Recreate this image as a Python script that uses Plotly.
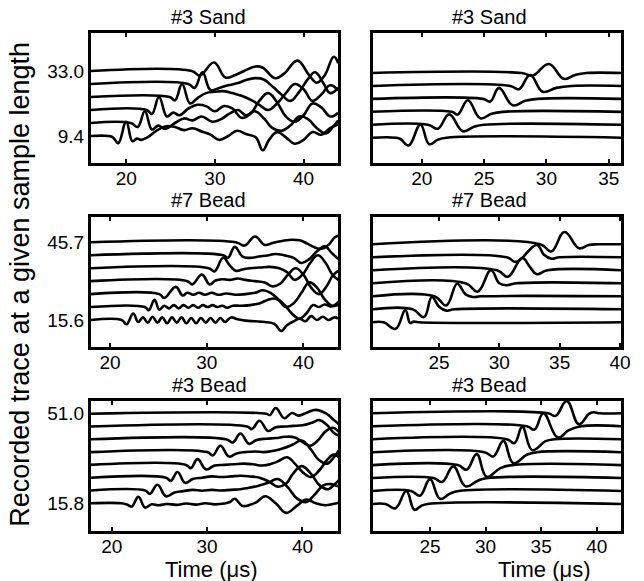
import plotly.graph_objects as go

W, H = 644, 581

# ---------------- data (time in microseconds, amplitude in trace-spacing units) -------------
SAND3_LEVELS = [9.4, 14.12, 18.84, 23.56, 28.28, 33.0]
BEAD7_LEVELS = [15.6, 20.62, 25.63, 30.65, 35.67, 40.68, 45.7]
BEAD3_LEVELS = [15.8, 20.83, 25.86, 30.89, 35.91, 40.94, 45.97, 51.0]

SAND3_TICKS_FULL = [20, 30, 40]
SAND3_TICKS_WIN = [20, 25, 30, 35]
BEAD7_TICKS_FULL = [20, 30, 40]
BEAD7_TICKS_WIN = [25, 30, 35, 40]
BEAD3_TICKS_FULL = [20, 30, 40]
BEAD3_TICKS_WIN = [25, 30, 35, 40]

SAND3_FULL = [
    [(16, 0), (18.0, 0), (18.5, -0.1), (19.1, -0.55), (20.0, 1.1), (20.7, -0.4), (21.2, -0.2), (21.7, -0.3),
     (22.4, -0.1), (23.4, 0.4), (24.5, 0.75), (25.5, 0.7), (26.5, 0.45), (27.5, 0.6), (28.5, 0.35), (29.5, 0.1),
     (30.5, -0.3), (31.5, 0.0), (32.5, 0.4), (33.5, 0.15), (34.6, -0.1), (35.4, -1.1), (36.1, -0.3), (37.0, 0.3),
     (38.0, -0.1), (39.0, -0.6), (40.0, -0.3), (41.0, 0.3), (42.0, 0.1), (43.0, 0.6), (43.9, 0.9)],
    [(16, 0), (20.5, 0), (21.3, -0.3), (22.1, 0.9), (22.9, -0.5), (23.6, -0.2), (24.4, -0.45), (25.5, 0.0),
     (26.5, 0.35), (27.5, 0.2), (28.5, 0.5), (29.7, 0.1), (30.7, 0.3), (31.6, 0.7), (32.6, 1.0), (33.5, 0.6),
     (34.5, 0.9), (35.6, 0.3), (36.5, -0.4), (37.5, -0.6), (38.5, -0.2), (39.5, 0.5), (40.5, 0.3), (41.5, -0.4),
     (42.5, -0.8), (43.3, -0.3), (43.9, 0.2)],
    [(16, 0), (22.3, 0), (22.9, -0.3), (23.7, 1.0), (24.6, -0.5), (25.3, -0.2), (26.0, -0.4), (27.0, 0.1),
     (28.0, 0.4), (29.0, 0.3), (30.0, -0.1), (31.0, 0.3), (32.0, 0.1), (33.0, -0.6), (34.0, -0.3), (35.0, 0.7),
     (36.0, 1.3), (37.0, 0.6), (38.0, -0.5), (39.0, -0.9), (40.0, -0.4), (41.0, 0.5), (42.0, 0.2), (43.0, -0.5),
     (43.9, -0.2)],
    [(16, 0), (24.9, 0), (25.5, -0.25), (26.3, 1.0), (27.2, -0.5), (28.0, -0.1), (29.0, 0.3), (30.0, 0.4),
     (31.0, 0.45), (32.0, 0.3), (33.0, 0.1), (34.0, -0.2), (35.0, -0.6), (36.0, -1.0), (37.0, -0.5), (38.0, 0.3),
     (39.0, 1.0), (40.0, 0.6), (41.0, -0.3), (42.0, 0.2), (43.0, 0.9), (43.9, 0.5)],
    [(16, 0), (27.0, 0), (27.7, -0.3), (28.6, 0.9), (29.5, -0.45), (30.5, -0.3), (31.5, -0.1), (32.5, 0.05),
     (33.5, 0.3), (34.5, 0.45), (35.5, 0.35), (36.5, -0.2), (37.5, -0.8), (38.5, -1.3), (39.5, -0.6), (40.5, 0.4),
     (41.3, 0.9), (42.2, 0.1), (43.0, -0.7), (43.9, -0.3)],
    [(16, 0), (27.4, 0), (28.3, -0.35), (29.9, 0.65), (31.2, -0.5), (32.3, -0.3), (33.3, 0.0), (34.6, 0.35),
     (35.4, 0.25), (36.8, -0.55), (37.8, -0.2), (39.3, 0.8), (40.6, -0.3), (41.5, -0.9), (42.4, -0.3), (43.4, 1.1),
     (43.9, 0.6)],
]

SAND3_WIN = [
    [(16, 0), (17.9, 0), (18.3, -0.1), (18.95, -0.6), (19.9, 1.0), (20.6, -0.5), (21.3, -0.15), (22.0, 0), (36, 0)],
    [(16, 0), (20.5, 0), (21.3, -0.3), (22.2, 0.8), (23.3, -0.5), (24.2, -0.15), (25.0, 0), (36, 0)],
    [(16, 0), (22.4, 0), (22.9, -0.2), (23.7, 0.9), (24.7, -0.5), (25.6, -0.15), (26.5, 0), (36, 0)],
    [(16, 0), (24.9, 0), (25.5, -0.2), (26.2, 0.85), (27.3, -0.5), (28.3, -0.15), (29.3, 0), (36, 0)],
    [(16, 0), (27.1, 0), (27.8, -0.25), (28.7, 0.85), (29.7, -0.45), (30.8, -0.15), (32.0, 0), (36, 0)],
    [(16, 0), (28.0, 0), (28.9, -0.2), (30.2, 0.7), (31.4, -0.45), (32.3, -0.15), (33.2, 0), (36, 0)],
]

BEAD7_FULL = [
    [(18, 0), (21.2, 0), (21.7, -0.33), (22.4, 0.5), (22.9, -0.15), (23.4, 0.2), (23.9, -0.2), (24.4, 0.25),
     (24.9, -0.2), (25.4, 0.2), (25.9, -0.25), (26.4, 0.2), (26.9, -0.2), (27.4, 0.2), (27.9, -0.25), (28.4, 0.15),
     (28.9, -0.25), (29.4, 0.15), (29.9, -0.2), (30.4, 0.15), (30.9, -0.2), (31.4, 0.15), (31.9, -0.15), (32.5, 0.2),
     (33.2, 0.05), (34.0, -0.05), (35.0, -0.1), (36.0, -0.15), (37.0, -0.3), (37.7, -0.85), (38.3, -0.4),
     (39.0, -0.1), (39.6, 0.1), (40.2, -0.1), (40.8, 0.3), (41.4, 0.0), (42.0, 0.25), (42.6, 0.0), (43.2, 0.2),
     (43.6, 0.1)],
    [(18, 0), (23.6, 0), (24.0, -0.25), (24.6, 0.55), (25.1, -0.2), (25.6, 0.1), (26.1, -0.1), (26.6, 0.15),
     (27.1, -0.1), (27.6, 0.15), (28.1, -0.05), (28.6, 0.15), (29.1, -0.05), (29.6, 0.15), (30.1, 0.0),
     (30.6, 0.15), (31.1, 0.0), (31.6, 0.1), (32.1, -0.05), (32.7, 0.1), (33.5, 0.1), (34.5, 0.15), (35.5, 0.3),
     (36.3, 0.55), (37.1, 0.65), (38.0, 0.2), (38.8, -0.5), (39.6, -0.9), (40.3, -0.5), (41.0, 0.15), (41.6, 0.0),
     (42.2, 0.2), (42.8, 0.05), (43.6, 0.15)],
    [(18, 0), (25.1, 0), (25.6, -0.3), (26.8, 0.56), (27.5, -0.1), (28.0, 0.1), (28.6, -0.05), (29.2, 0.1),
     (29.8, -0.05), (30.5, 0.1), (31.2, -0.05), (32.0, 0.05), (33.0, -0.05), (34.0, 0.0), (35.0, 0.1), (35.8, 0.3),
     (36.6, 0.1), (37.4, -0.4), (38.2, -1.0), (39.0, -0.7), (39.8, 0.1), (40.6, 0.9), (41.4, 0.5), (42.2, -0.4),
     (43.0, -0.9), (43.6, -0.6)],
    [(18, 0), (28.0, 0), (28.5, -0.25), (29.5, 0.5), (30.3, -0.25), (30.9, 0.05), (31.6, 0.15), (32.4, 0.1),
     (33.2, 0.2), (34.0, 0.1), (35.0, 0.0), (36.0, -0.1), (36.8, -0.4), (37.6, -0.2), (38.4, 0.5), (39.2, 1.0),
     (40.0, 0.5), (40.8, -0.5), (41.6, -1.0), (42.4, -0.4), (43.0, 0.4), (43.6, 0.8)],
    [(18, 0), (30.2, 0), (30.8, -0.25), (31.7, 0.8), (32.4, 0.2), (33.0, -0.2), (33.7, -0.1), (34.5, 0.0),
     (35.5, 0.05), (36.5, 0.1), (37.5, 0.0), (38.3, -0.3), (39.1, -0.9), (39.9, -0.5), (40.7, 0.4), (41.5, 1.0),
     (42.3, 0.4), (43.0, -0.5), (43.6, -0.9)],
    [(18, 0), (31.7, 0), (32.2, -0.2), (32.9, 0.65), (33.7, -0.1), (34.4, -0.2), (35.4, -0.1), (36.4, 0.0),
     (37.1, 0.1), (38.0, 0.0), (39.0, -0.2), (39.8, -0.6), (40.6, -0.3), (41.4, 0.3), (42.2, 0.7), (42.9, 0.2),
     (43.6, -0.3)],
    [(18, 0), (33.0, 0), (33.9, -0.25), (35.0, 0.45), (36.0, -0.2), (36.8, -0.05), (37.8, 0.1), (38.8, 0.2),
     (39.6, 0.15), (40.4, -0.1), (41.2, -0.4), (41.9, -0.5), (42.6, -0.2), (43.2, 0.35), (43.6, 0.5)],
]

BEAD7_WIN = [
    [(19.5, 0), (20.4, 0), (21.4, -0.5), (22.2, 0.95), (22.6, -0.05), (22.9, 0.05), (23.3, 0), (40.1, 0)],
    [(19.5, 0), (22.8, 0), (23.75, -0.6), (24.4, 0.95), (25.0, 0.2), (25.6, -0.1), (26.3, 0), (40.1, 0)],
    [(19.5, 0), (24.6, 0), (25.6, -0.7), (26.5, 0.97), (27.2, 0.15), (27.8, -0.05), (28.5, 0), (40.1, 0)],
    [(19.5, 0), (27.2, 0), (28.2, -0.64), (29.3, 1.0), (30.0, 0.0), (30.6, -0.15), (31.4, 0), (40.1, 0)],
    [(19.5, 0), (29.8, 0), (30.7, -0.5), (31.9, 0.95), (32.5, 0.3), (33.1, -0.3), (34.0, 0), (40.1, 0)],
    [(19.5, 0), (30.6, 0), (31.4, -0.35), (33.1, 0.95), (33.7, 0.2), (34.3, -0.1), (35.0, 0), (40.1, 0)],
    [(19.5, 0), (33.4, 0), (34.3, -0.55), (35.4, 0.95), (36.6, -0.3), (37.4, -0.05), (38.2, 0), (40.1, 0)],
]

BEAD3_FULL = [
    [(17.8, 0), (21.0, 0), (21.6, -0.1), (22.1, -0.25), (22.8, 0.5), (23.5, -0.33), (24.2, -0.08), (24.9, -0.15),
     (25.8, -0.05), (26.8, -0.12), (27.8, -0.02), (28.8, -0.1), (29.8, 0.0), (30.8, -0.08), (31.8, -0.02),
     (32.4, 0.1), (32.9, 0.35), (33.7, -0.2), (34.5, -0.12), (35.2, 0.1), (36.1, 0.55), (37.2, 0.0), (38.3, -0.75),
     (39.4, -0.2), (40.4, 0.3), (41.4, 0.0), (42.4, -0.15), (43.2, -0.05), (43.8, 0.05)],
    [(17.8, 0), (23.5, 0), (24.0, -0.25), (24.8, 0.45), (25.7, -0.45), (26.6, -0.15), (27.5, -0.05), (28.5, 0.05),
     (29.5, -0.02), (30.5, 0.05), (31.5, 0.0), (32.5, 0.05), (33.5, 0.1), (34.3, 0.2), (35.3, 0.35), (36.4, 0.6),
     (37.4, 0.9), (38.4, 0.3), (39.4, -0.6), (40.4, -0.9), (41.3, -0.3), (42.2, 0.4), (43.0, 0.5), (43.8, 0.3)],
    [(17.8, 0), (25.7, 0), (26.2, -0.25), (26.9, 0.45), (27.7, -0.4), (28.5, -0.1), (29.5, 0.0), (30.5, 0.1),
     (31.5, 0.05), (32.5, 0.1), (33.5, 0.15), (34.5, 0.1), (35.5, 0.0), (36.5, -0.3), (37.4, -0.7), (38.3, -0.45),
     (39.0, 0.3), (39.9, 0.9), (40.9, 0.3), (41.8, -0.6), (42.7, -0.9), (43.4, -0.5), (43.8, -0.2)],
    [(17.8, 0), (27.8, 0), (28.3, -0.25), (29.0, 0.45), (29.9, -0.35), (30.8, -0.05), (31.8, 0.0), (32.8, 0.05),
     (33.8, 0.1), (34.8, 0.05), (35.8, -0.05), (36.8, 0.1), (37.5, 0.3), (38.4, 0.6), (39.2, 0.1), (40.0, -0.55),
     (40.9, -0.95), (41.8, -0.4), (42.6, 0.4), (43.3, 0.8), (43.8, 0.6)],
    [(17.8, 0), (30.0, 0), (30.6, -0.25), (31.4, 0.5), (32.3, -0.35), (33.1, -0.1), (34.0, 0.0), (35.0, 0.05),
     (36.0, 0.0), (37.0, 0.1), (38.0, 0.3), (39.0, 0.6), (39.9, 0.9), (40.8, 0.3), (41.7, -0.6), (42.6, -0.9),
     (43.3, -0.4), (43.8, 0.1)],
    [(17.8, 0), (32.0, 0), (32.7, -0.25), (33.5, 0.45), (34.4, -0.35), (35.2, -0.05), (36.2, 0.05), (37.2, 0.1),
     (38.2, 0.2), (39.2, 0.15), (40.0, -0.2), (40.8, -0.5), (41.6, -0.1), (42.4, 0.6), (43.2, 0.9), (43.8, 0.6)],
    [(17.8, 0), (34.2, 0), (34.7, -0.2), (35.5, 0.45), (36.4, -0.35), (37.2, -0.05), (38.2, 0.0), (39.0, 0.05),
     (40.0, 0.1), (41.0, 0.3), (41.8, 0.5), (42.6, 0.1), (43.3, -0.5), (43.8, -0.7)],
    [(17.8, 0), (36.2, 0), (36.6, -0.1), (37.2, 0.45), (38.1, -0.35), (38.9, 0.05), (39.6, -0.15), (40.5, 0.1),
     (41.4, 0.3), (42.5, 0.0), (43.3, -0.5), (43.8, -0.8)],
]

BEAD3_WIN = [
    [(19.85, 0), (21.0, 0), (21.9, -0.33), (22.87, 1.0), (23.6, -0.45), (24.2, -0.15), (24.8, 0), (42.2, 0)],
    [(19.85, 0), (23.3, 0), (24.1, -0.36), (25.0, 0.92), (25.9, -0.6), (26.8, -0.2), (27.6, 0), (42.2, 0)],
    [(19.85, 0), (25.3, 0), (26.1, -0.3), (27.1, 0.9), (28.2, -0.64), (29.3, -0.2), (30.2, 0), (42.2, 0)],
    [(19.85, 0), (27.5, 0), (28.3, -0.35), (29.2, 0.85), (30.1, -0.9), (31.3, -0.25), (32.4, 0), (42.2, 0)],
    [(19.85, 0), (29.9, 0), (30.7, -0.33), (31.6, 0.87), (32.5, -0.85), (33.7, -0.2), (34.6, 0), (42.2, 0)],
    [(19.85, 0), (31.9, 0), (32.6, -0.3), (33.3, 0.95), (34.2, -0.85), (35.4, -0.15), (36.2, 0), (42.2, 0)],
    [(19.85, 0), (33.7, 0), (34.4, -0.25), (35.2, 1.0), (36.5, -0.87), (37.5, -0.3), (38.6, 0), (42.2, 0)],
    [(19.85, 0), (35.6, 0), (36.3, -0.2), (37.3, 0.95), (38.4, -0.85), (39.3, -0.05), (39.7, 0.08), (40.3, 0),
     (42.2, 0)],
]

TITLES = ["#3 Sand", "#3 Sand", "#7 Bead", "#7 Bead", "#3 Bead", "#3 Bead"]
Y_TITLE = "Recorded trace at a given sample length"
X_TITLE = "Time (\u03bcs)"

# ---------------- layout (pixel boxes of the six frames) ----------------
FONT = "Liberation Sans, Arial, Helvetica, sans-serif"
panels = [
    dict(traces=SAND3_FULL, levels=SAND3_LEVELS, ticks=SAND3_TICKS_FULL, box=(92, 343, 33, 163),
         xr=(16.0, 43.9), yr=(-0.41, 46.81), ylab=True),
    dict(traces=SAND3_WIN, levels=SAND3_LEVELS, ticks=SAND3_TICKS_WIN, box=(378, 630, 33, 163),
         xr=(16.07, 36.0), yr=(0.17, 47.6), ylab=False),
    dict(traces=BEAD7_FULL, levels=BEAD7_LEVELS, ticks=BEAD7_TICKS_FULL, box=(92, 343, 217, 347),
         xr=(18.0, 43.6), yr=(5.14, 55.5), ylab=True),
    dict(traces=BEAD7_WIN, levels=BEAD7_LEVELS, ticks=BEAD7_TICKS_WIN, box=(378, 630, 217, 347),
         xr=(19.5, 40.1), yr=(6.07, 56.24), ylab=False),
    dict(traces=BEAD3_FULL, levels=BEAD3_LEVELS, ticks=BEAD3_TICKS_FULL, box=(92, 343, 401, 531),
         xr=(17.8, 43.75), yr=(4.92, 55.99), ylab=True),
    dict(traces=BEAD3_WIN, levels=BEAD3_LEVELS, ticks=BEAD3_TICKS_WIN, box=(378, 630, 401, 531),
         xr=(19.85, 42.2), yr=(5.32, 55.77), ylab=False),
]

fig = go.Figure()
layout = dict(
    width=W, height=H, margin=dict(l=0, r=0, t=0, b=0),
    paper_bgcolor="white", plot_bgcolor="white", showlegend=False,
    font=dict(family=FONT, color="black"),
)
annotations = []

for i, p in enumerate(panels, start=1):
    xs = "" if i == 1 else str(i)
    levels = p["levels"]
    step = levels[1] - levels[0]
    for lvl, tr in zip(levels, p["traces"]):
        fig.add_trace(go.Scatter(
            x=[t for t, a in tr], y=[lvl + a * step for t, a in tr],
            mode="lines", line=dict(color="black", width=2.6, shape="spline", smoothing=1.2),
            xaxis="x" + xs, yaxis="y" + xs, hoverinfo="skip"))
    x0, x1, y0, y1 = p["box"]
    layout["xaxis" + xs] = dict(
        domain=[x0 / W, x1 / W], range=list(p["xr"]), anchor="y" + xs,
        tickvals=p["ticks"], ticks="inside", ticklen=4, tickwidth=1.5, tickcolor="black",
        showline=True, linewidth=2.6, linecolor="black", mirror="allticks",
        showgrid=False, zeroline=False, tickfont=dict(size=19, family=FONT, color="black"),
        ticklabelstandoff=-4,
    )
    ydict = dict(
        domain=[1 - y1 / H, 1 - y0 / H], range=list(p["yr"]), anchor="x" + xs,
        showline=True, linewidth=2.6, linecolor="black", mirror=True,
        showgrid=False, zeroline=False,
    )
    if p["ylab"]:
        ydict.update(tickvals=[levels[0], levels[-1]],
                     ticktext=["%.1f" % levels[0], "%.1f" % levels[-1]],
                     ticks="inside", ticklen=4, tickwidth=1.5, tickcolor="black",
                     tickfont=dict(size=19, family=FONT, color="black"))
    else:
        ydict.update(showticklabels=False, ticks="")
    layout["yaxis" + xs] = ydict

# panel titles
title_pos = [(211, 17), (496, 17), (211, 200), (496, 200), (212, 385), (496, 385)]
for txt, (cx, cy) in zip(TITLES, title_pos):
    annotations.append(dict(text=txt, x=cx / W, y=1 - cy / H, xref="paper", yref="paper",
                            xanchor="center", yanchor="middle", showarrow=False,
                            font=dict(size=20, family=FONT, color="black")))
# x titles
for cx in (214, 552):
    annotations.append(dict(text=X_TITLE, x=cx / W, y=1 - 569 / H, xref="paper", yref="paper",
                            xanchor="center", yanchor="middle", showarrow=False,
                            font=dict(size=22, family=FONT, color="black")))
# y title
annotations.append(dict(text=Y_TITLE, x=20 / W, y=1 - 284 / H, xref="paper", yref="paper",
                        xanchor="center", yanchor="middle", showarrow=False, textangle=-90,
                        font=dict(size=27, family=FONT, color="black")))

layout["annotations"] = annotations
fig.update_layout(**layout)
fig.write_html("out.html")
